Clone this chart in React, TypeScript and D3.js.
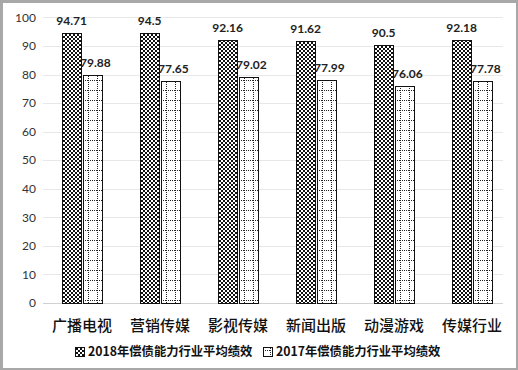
import { useEffect } from 'react'
import * as d3 from 'd3'

const categories = ['广播电视', '营销传媒', '影视传媒', '新闻出版', '动漫游戏', '传媒行业']
const series = ['2018年偿债能力行业平均绩效', '2017年偿债能力行业平均绩效']
const values2018 = [94.71, 94.5, 92.16, 91.62, 90.5, 92.18]
const values2017 = [79.88, 77.65, 79.02, 77.99, 76.06, 77.78]
const yTicks = [0, 10, 20, 30, 40, 50, 60, 70, 80, 90, 100]

const W = 518
const H = 370
const margin = { top: 17.4, right: 8, bottom: 67, left: 43 }

export default function App() {
  useEffect(() => {
    document.body.style.margin = '0'
  }, [])

  const x0 = d3.scaleBand<string>()
    .domain(categories)
    .range([margin.left, margin.left + 78 * categories.length])

  const bw = x0.bandwidth()
  const x1 = d3.scaleBand<string>()
    .domain(series)
    .range([bw * 0.245, bw * 0.755])
    .paddingInner(0.08)

  const y = d3.scaleLinear()
    .domain([0, 100])
    .range([H - margin.bottom, margin.top])

  const seriesData = [values2018, values2017]
  const fills = ['url(#checker)', 'url(#dotgrid)']
  const font = '"Noto Sans CJK SC", "Noto Sans", sans-serif'

  return (
    <svg width={W} height={H} style={{ display: 'block', position: 'absolute', left: 0, top: 0 }}>
      <defs>
        <pattern id="checker" width={4} height={4} patternUnits="userSpaceOnUse">
          <rect width={4} height={4} fill="#fff" />
          <rect width={2} height={2} fill="#111" />
          <rect x={2} y={2} width={2} height={2} fill="#111" />
        </pattern>
        <pattern id="dotgrid" width={9} height={10} patternUnits="userSpaceOnUse">
          <rect width={9} height={10} fill="#fff" />
          <line x1={0.5} y1={0} x2={0.5} y2={10} stroke="#222" strokeWidth={1} strokeDasharray="1,1" />
          <line x1={0} y1={0.5} x2={9} y2={0.5} stroke="#222" strokeWidth={1} strokeDasharray="1,1" />
        </pattern>
      </defs>

      {/* outer frame */}
      <rect x={0} y={0} width={W} height={H} fill="#a8a8a8" />
      <rect x={3} y={3} width={W - 5} height={H - 5} fill="#fff" />

      {/* gridlines */}
      {yTicks.map(t => (
        <line key={t} x1={margin.left} x2={503} y1={Math.round(y(t)) + 0.5} y2={Math.round(y(t)) + 0.5}
          stroke={t === 0 ? '#d0d0d0' : '#e8e8e8'} strokeWidth={1} />
      ))}

      {/* y labels */}
      {yTicks.map(t => (
        <text key={'l' + t} x={36} y={y(t)} dy="0.35em" textAnchor="end"
          fontSize={12} fill="#333" fontFamily='Lato, "Noto Sans", sans-serif'>{t}</text>
      ))}

      {/* bars */}
      {categories.map((c, i) => (
        <g key={c} transform={`translate(${x0(c)},0)`}>
          {series.map((s, j) => {
            const v = seriesData[j][i]
            const bx = x1(s)!
            const top = y(v)
            return (
              <g key={s}>
                <rect x={Math.round(bx) + 0.5} y={Math.round(top) + 0.5}
                  width={Math.round(x1.bandwidth())} height={Math.round(y(0)) - Math.round(top)}
                  fill={fills[j]} stroke="#111" strokeWidth={1} />
                <text x={bx + x1.bandwidth() / 2 + (j === 1 ? 3 : 0)} y={top - 8} textAnchor="middle"
                  fontSize={12} fontWeight="bold" fill="#222"
                  fontFamily='Lato, "Noto Sans", sans-serif'>{v}</text>
              </g>
            )
          })}
        </g>
      ))}

      {/* category labels */}
      {categories.map(c => (
        <text key={'c' + c} x={x0(c)! + bw / 2} y={326} dy="0.35em" textAnchor="middle"
          fontSize={15} fontWeight={500} fill="#111" fontFamily={font}>{c}</text>
      ))}

      {/* legend */}
      {[{ x: 75, label: series[0], fill: fills[0] }, { x: 263, label: series[1], fill: fills[1] }].map(it => (
        <g key={it.label}>
          <rect x={it.x + 0.5} y={347.5} width={9} height={9} fill={it.fill} stroke="#111" strokeWidth={1} />
          <text x={it.x + 13} y={352} dy="0.35em" fontSize={12.3} fontWeight="bold" fill="#111"
            fontFamily={font}>{it.label}</text>
        </g>
      ))}
    </svg>
  )
}
